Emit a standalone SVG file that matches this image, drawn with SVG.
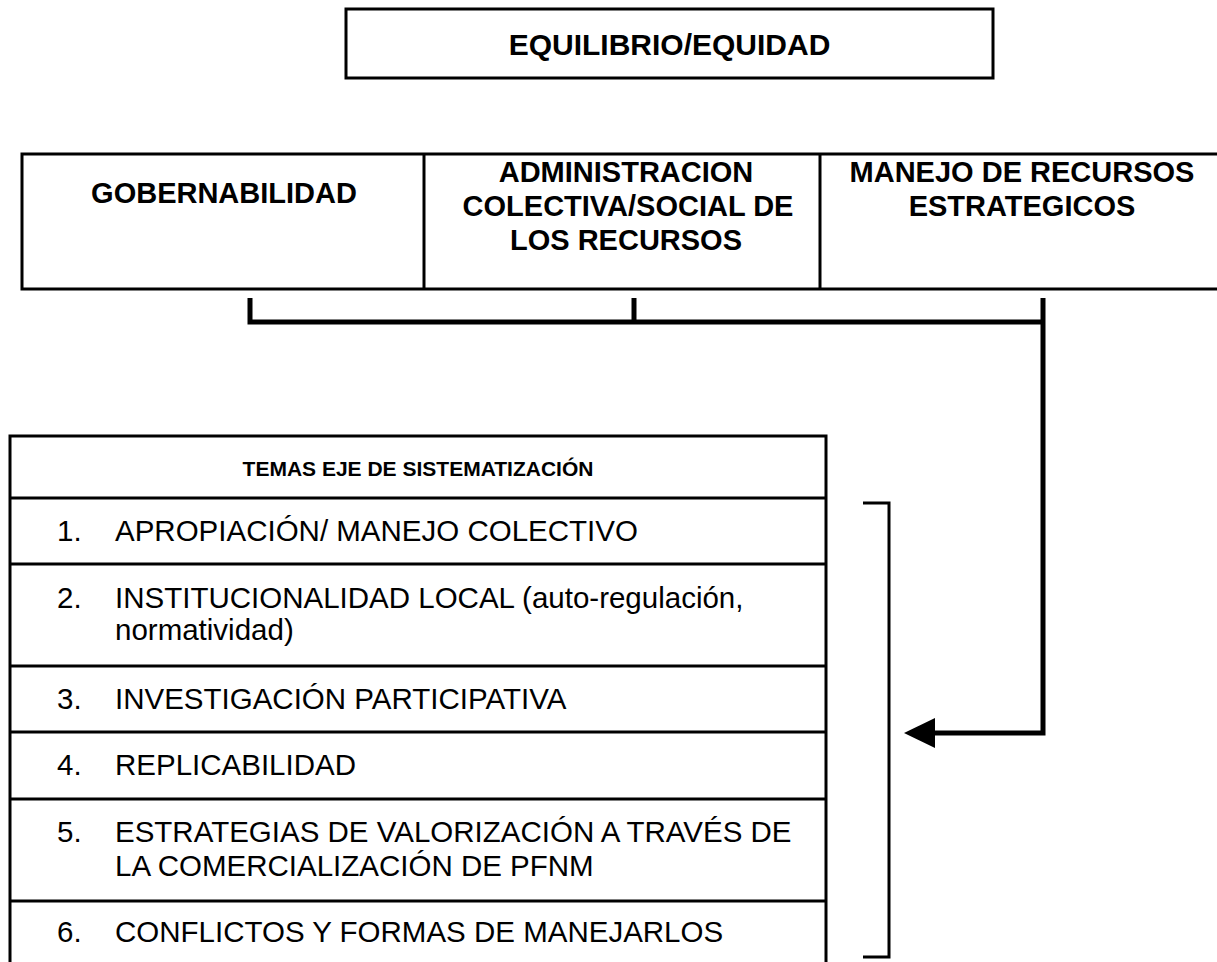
<svg xmlns="http://www.w3.org/2000/svg" width="1217" height="962" viewBox="0 0 1217 962">
<style>
.box{fill:#fff;stroke:#000;stroke-width:3}
.ln{stroke:#000;stroke-width:3;fill:none}
.b{font-family:"Liberation Sans",Arial,sans-serif;font-weight:bold;font-size:29px;fill:#000;text-anchor:middle}
.h{font-family:"Liberation Sans",Arial,sans-serif;font-weight:bold;font-size:21px;fill:#000;text-anchor:middle}
.r{font-family:"Liberation Sans",Arial,sans-serif;font-size:29.5px;fill:#000}
.con{stroke:#000;stroke-width:5;fill:none}
</style>
<rect width="1217" height="962" fill="#fff"/>
<g id="equilibrio">
<rect class="box" x="346" y="9" width="647" height="69"/>
<text class="b" x="669.5" y="55" style="font-size:30px">EQUILIBRIO/EQUIDAD</text>
</g>
<g id="gobernabilidad">
<path class="ln" d="M1217,154 H22 V289 H1217"/>
<text class="b" x="224" y="203">GOBERNABILIDAD</text>
</g>
<g id="administracion">
<line class="ln" x1="424" y1="154" x2="424" y2="289"/>
<text class="b" x="626" y="182">ADMINISTRACION</text>
<text class="b" x="628" y="216">COLECTIVA/SOCIAL DE</text>
<text class="b" x="626" y="250">LOS RECURSOS</text>
</g>
<g id="manejo">
<line class="ln" x1="820" y1="154" x2="820" y2="289"/>
<text class="b" x="1022" y="182">MANEJO DE RECURSOS</text>
<text class="b" x="1022" y="216">ESTRATEGICOS</text>
</g>
<g id="connectors">
<path class="con" d="M250,298 V322 H1043"/>
<line class="con" x1="634" y1="298" x2="634" y2="322"/>
<path class="con" d="M1043,298 V733 H935"/>
<path d="M904,733 L935,718 L935,748 Z" fill="#000"/>
<path d="M863,503 H889 V957 H863" fill="none" stroke="#000" stroke-width="3"/>
</g>
<g id="temas">
<rect class="box" x="10" y="436" width="816" height="540"/>
<line class="ln" x1="10" y1="498" x2="826" y2="498"/>
<line class="ln" x1="10" y1="564" x2="826" y2="564"/>
<line class="ln" x1="10" y1="666" x2="826" y2="666"/>
<line class="ln" x1="10" y1="732" x2="826" y2="732"/>
<line class="ln" x1="10" y1="799" x2="826" y2="799"/>
<line class="ln" x1="10" y1="901" x2="826" y2="901"/>
<text class="h" x="418" y="476">TEMAS EJE DE SISTEMATIZACIÓN</text>
<text class="r" x="57" y="541">1.</text><text class="r" x="115" y="541">APROPIACIÓN/ MANEJO COLECTIVO</text>
<text class="r" x="57" y="608">2.</text><text class="r" x="115" y="608">INSTITUCIONALIDAD LOCAL (auto-regulación,</text>
<text class="r" x="115" y="640">normatividad)</text>
<text class="r" x="57" y="709">3.</text><text class="r" x="115" y="709">INVESTIGACIÓN PARTICIPATIVA</text>
<text class="r" x="57" y="775">4.</text><text class="r" x="115" y="775">REPLICABILIDAD</text>
<text class="r" x="57" y="842">5.</text><text class="r" x="115" y="842">ESTRATEGIAS DE VALORIZACIÓN A TRAVÉS DE</text>
<text class="r" x="115" y="876">LA COMERCIALIZACIÓN DE PFNM</text>
<text class="r" x="57" y="942">6.</text><text class="r" x="115" y="942">CONFLICTOS Y FORMAS DE MANEJARLOS</text>
</g>
</svg>
